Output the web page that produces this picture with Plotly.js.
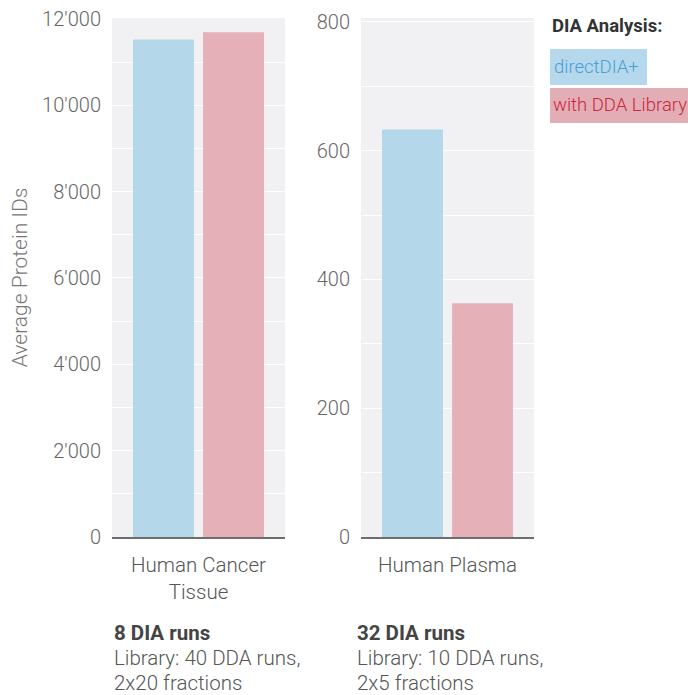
<!DOCTYPE html>
<html>
<head>
<meta charset="utf-8">
<script src="https://cdn.plot.ly/plotly-3.0.1.min.js"></script>
<style>html,body{margin:0;padding:0;background:#fff;}#chart{width:688px;height:695px;}</style>
</head>
<body>
<div id="chart"></div>
<script>
// ---- data ----
const categories = ["Human Cancer<br>Tissue", "Human Plasma"];
const seriesNames = ["directDIA+", "with DDA Library"];
const directDIA = [11520, 633];
const withDDA = [11690, 363];
const notesBold = ["8 DIA runs", "32 DIA runs"];
const notesLine1 = ["Library: 40 DDA runs,", "Library: 10 DDA runs,"];
const notesLine2 = ["2x20 fractions", "2x5 fractions"];
const legendTitle = "DIA Analysis:";
const yTitle = "Average Protein IDs";

// ---- styles ----
const blue = "#b4d7ea";
const red = "#e5b0b7";
const FONT = "Roboto, 'Open Sans', sans-serif";
const W = 688, H = 695, T = 18, B = 158;
const PH = H - T - B;
const px = v => v / W;
const py = v => (H - B - v) / PH;

const traces = [];
[["x", "y"], ["x2", "y2"]].forEach((ax, i) => {
  traces.push({type: "bar", x: [categories[i]], y: [directDIA[i]], name: seriesNames[0],
    marker: {color: blue}, xaxis: ax[0], yaxis: ax[1], showlegend: false, hoverinfo: "y"});
  traces.push({type: "bar", x: [categories[i]], y: [withDDA[i]], name: seriesNames[1],
    marker: {color: red}, xaxis: ax[0], yaxis: ax[1], showlegend: false, hoverinfo: "y"});
});

const tickFont = {family: FONT, size: 20, color: "#666", weight: 300};
const catFont = {family: FONT, size: 20.5, color: "#555", weight: 300};

const xBase = {showline: true, linecolor: "#6e6e6e", linewidth: 1.5, showgrid: false,
  zeroline: false, tickfont: catFont, ticks: "", ticklabelstandoff: 9, fixedrange: true};
const yBase = {showgrid: true, gridcolor: "#ffffff", gridwidth: 1, zeroline: false,
  showline: false, tickfont: tickFont, ticks: "", tickformat: ",d", ticklabelstandoff: 10, fixedrange: true};

const annotations = [];
const noteX = [px(112), px(355)];
const noteFont = {family: FONT, size: 20.5, color: "#555", weight: 300};
for (let i = 0; i < 2; i++) {
  annotations.push({xref: "paper", yref: "paper", x: noteX[i], y: py(633), xanchor: "left", yanchor: "middle",
    align: "left", showarrow: false, text: "<b>" + notesBold[i] + "</b>",
    font: {family: FONT, size: 20.5, color: "#444"}});
  annotations.push({xref: "paper", yref: "paper", x: noteX[i], y: py(658), xanchor: "left", yanchor: "middle",
    align: "left", showarrow: false, text: notesLine1[i], font: noteFont});
  annotations.push({xref: "paper", yref: "paper", x: noteX[i], y: py(683), xanchor: "left", yanchor: "middle",
    align: "left", showarrow: false, text: notesLine2[i], font: noteFont});
}
annotations.push({xref: "paper", yref: "paper", x: px(550), y: py(26), xanchor: "left", yanchor: "middle",
  showarrow: false, text: "<b>" + legendTitle + "</b>", font: {family: FONT, size: 18.5, color: "#333"}});
annotations.push({xref: "paper", yref: "paper", x: px(552), y: py(67), xanchor: "left", yanchor: "middle",
  showarrow: false, text: seriesNames[0], font: {family: FONT, size: 18.5, color: "#4a9fd5", weight: 300}});
annotations.push({xref: "paper", yref: "paper", x: px(551), y: py(105), xanchor: "left", yanchor: "middle",
  showarrow: false, text: seriesNames[1], font: {family: FONT, size: 18.5, color: "#c8283c", weight: 300}});

const shapes = [
  {type: "rect", xref: "paper", yref: "paper", x0: px(550), x1: px(647), y0: py(49), y1: py(85),
    fillcolor: "#b5d8ec", line: {width: 0}, layer: "below"},
  {type: "rect", xref: "paper", yref: "paper", x0: px(550), x1: px(700), y0: py(88), y1: py(123),
    fillcolor: "#e3adb5", line: {width: 0}, layer: "below"}
];

const layout = {
  width: W, height: H,
  margin: {l: 0, r: 0, t: T, b: B},
  paper_bgcolor: "#ffffff",
  plot_bgcolor: "#f1f1f3",
  separators: ".'",
  barmode: "group",
  bargap: 0.19,
  bargroupgap: 0.13,
  showlegend: false,
  xaxis: Object.assign({}, xBase, {domain: [px(112), px(285)], anchor: "y"}),
  xaxis2: Object.assign({}, xBase, {domain: [px(361), px(534)], anchor: "y2"}),
  yaxis: Object.assign({}, yBase, {domain: [0, 1], anchor: "x", range: [0, 12020], dtick: 2000,
    minor: {dtick: 1000, showgrid: true, gridcolor: "#ffffff", gridwidth: 1},
    title: {text: yTitle, font: {family: FONT, size: 21, color: "#777", weight: 300}, standoff: 8}}),
  yaxis2: Object.assign({}, yBase, {domain: [0, 1], anchor: "x2", range: [0, 806], dtick: 200,
    minor: {dtick: 100, showgrid: true, gridcolor: "#ffffff", gridwidth: 1}}),
  annotations: annotations,
  shapes: shapes
};

Plotly.newPlot("chart", traces, layout, {displayModeBar: false, staticPlot: true});
</script>
</body>
</html>
